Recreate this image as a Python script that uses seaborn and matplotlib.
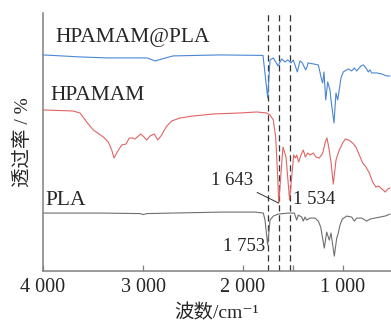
import matplotlib

matplotlib.use("Agg")
import matplotlib.pyplot as plt
import seaborn as sns
import pandas as pd
from matplotlib.ticker import FixedLocator

# FT-IR spectra (wavenumber in cm-1, transmittance in arbitrary units)
wn_blend = [4000, 3630, 3360, 2960, 2880, 2700, 2230, 1800, 1753, 1730, 1697, 1650, 1613,
            1580, 1553, 1520, 1497, 1457, 1430, 1407, 1373, 1357, 1350, 1297, 1247, 1213,
            1203, 1190, 1173, 1153, 1130, 1120, 1090, 1070, 1053, 1020, 997, 947, 913, 887,
            863, 820, 797, 770, 747, 730, 713, 663, 613, 563, 530]
t_blend = [216, 214, 213, 213, 210, 215, 216, 215.5, 173, 211, 213, 205, 212,
           209, 211, 208, 211, 199, 210, 208, 201, 205, 208, 207, 206, 191,
           188, 199, 171, 189, 181, 171, 148, 178, 171, 193, 199, 202, 200, 203,
           200, 205, 206, 203, 199, 201, 198, 198, 197, 195, 195]

wn_hpamam = [4000, 3700, 3630, 3563, 3497, 3397, 3347, 3313, 3290, 3257, 3213, 3170, 3137,
             3103, 3080, 3057, 3023, 2990, 2963, 2930, 2887, 2853, 2813, 2770, 2713, 2630,
             2497, 2297, 2030, 1863, 1763, 1730, 1697, 1673, 1653, 1643, 1600, 1570, 1534,
             1493, 1477, 1463, 1443, 1420, 1397, 1377, 1353, 1330, 1297, 1270, 1237, 1203,
             1177, 1160, 1143, 1120, 1097, 1070, 1037, 1003, 977, 943, 903, 870, 837, 803,
             770, 737, 703, 670, 643, 610, 577, 553, 530]
t_hpamam = [161, 160, 158, 149, 141, 134, 129, 121, 113, 119, 126, 127, 133,
            133, 132, 134, 137, 134, 131, 135, 137, 131, 136, 144, 150, 153,
            155, 157, 158, 159, 158, 156, 151, 134, 94, 68, 124, 114, 71,
            116, 113, 116, 109, 116, 121, 114, 118, 116, 118, 114, 113, 118,
            129, 133, 124, 109, 87, 111, 121, 128, 132, 131, 128, 124, 116, 108,
            104, 98, 89, 84, 85, 82, 79, 82, 83]

wn_pla = [4000, 3430, 3030, 2997, 2960, 2200, 1880, 1797, 1780, 1753, 1730, 1697, 1647,
          1547, 1487, 1463, 1447, 1413, 1397, 1380, 1363, 1330, 1280, 1247, 1223, 1187,
          1163, 1137, 1120, 1087, 1063, 1047, 1030, 1007, 963, 913, 887, 863, 813, 763,
          730, 680, 630, 580, 530]
t_pla = [58, 58, 57.5, 56.5, 57.5, 59, 59, 58, 51, 26, 51, 55, 57,
         58, 58, 51, 56, 54, 50, 54, 51, 53, 53, 50, 44, 23,
         39, 31, 38, 15, 33, 38, 46, 52, 55, 54, 50, 53, 53, 50,
         52, 53, 54, 55, 57]

series_names = ["HPAMAM@PLA", "HPAMAM", "PLA"]
series_colors = ["#4a86d6", "#e26464", "#6f6f6f"]
marked_peaks = [1753, 1643, 1534]

df = pd.concat([
    pd.DataFrame({"wn": wn_blend, "t": t_blend, "sample": series_names[0]}),
    pd.DataFrame({"wn": wn_hpamam, "t": t_hpamam, "sample": series_names[1]}),
    pd.DataFrame({"wn": wn_pla, "t": t_pla, "sample": series_names[2]}),
])

sns.set_theme(style="ticks")
plt.rcParams["font.family"] = ["Liberation Serif", "Noto Sans CJK SC", "DejaVu Sans"]

fig = plt.figure(figsize=(3.91, 3.22), dpi=100)
ax = fig.add_axes([0.11, 0.158, 0.89, 0.802])

sns.lineplot(data=df, x="wn", y="t", hue="sample", palette=dict(zip(series_names, series_colors)),
             linewidth=0.8, legend=False, ax=ax)

for p in marked_peaks:
    ax.axvline(p, color="#333333", lw=0.9, ls=(0, (5, 3)), zorder=0)

ax.set_xlim(4000, 520)
ax.set_ylim(0, 258)

# series labels
ax.text(3880, 233, series_names[0], fontsize=15.5, va="center", ha="left")
ax.text(3930, 175, series_names[1], fontsize=15.5, va="center", ha="left")
ax.text(3980, 71, series_names[2], fontsize=15.5, va="center", ha="left")

# peak annotations
ax.annotate("1 643", xy=(1643, 68), xytext=(1900, 91), fontsize=13.5, ha="right", va="center",
            arrowprops=dict(arrowstyle="-", color="#333333", lw=0.7, shrinkA=1, shrinkB=0))
ax.text(1500, 72, "1 534", fontsize=13.5, ha="left", va="center")
ax.text(1780, 25, "1 753", fontsize=13.5, ha="right", va="center")

ax.set_xticks([4000, 3000, 2000, 1000])
ax.set_xticklabels(["4 000", "3 000", "2 000", "1 000"], fontsize=14.5)
ax.xaxis.set_minor_locator(FixedLocator([1500]))
ax.set_yticks([])
ax.tick_params(axis="x", which="both", direction="in", length=4, width=0.9, color="#808080", pad=5)

ax.set_xlabel("波数/cm⁻¹", fontsize=14, labelpad=5)
ax.set_ylabel("透过率 / %", fontsize=14, labelpad=8)

sns.despine(ax=ax, top=True, right=True)
for side in ["left", "bottom"]:
    ax.spines[side].set_color("#808080")
    ax.spines[side].set_linewidth(1.1)

fig.savefig("out.png", dpi=100)
